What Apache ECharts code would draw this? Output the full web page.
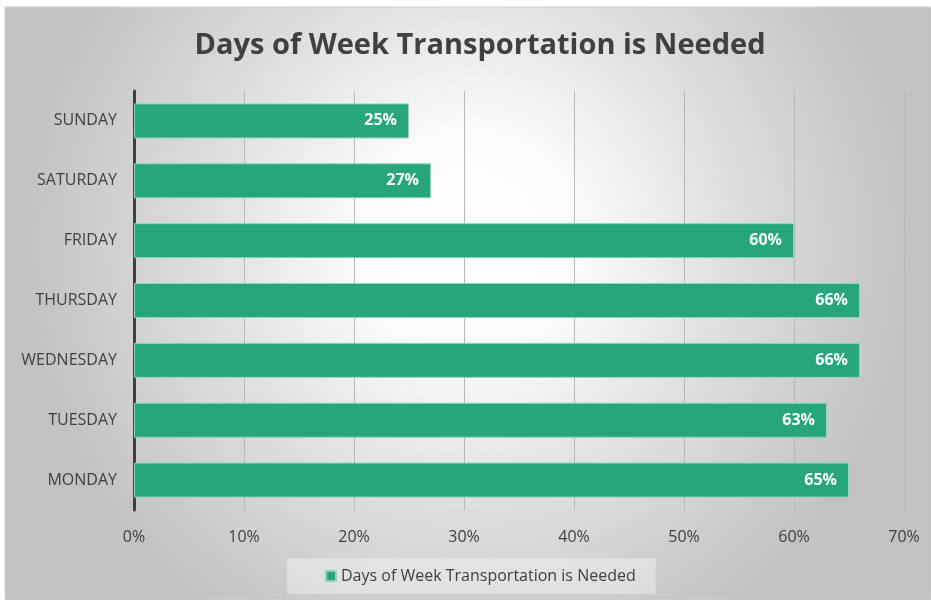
<!DOCTYPE html>
<html>
<head>
<meta charset="utf-8">
<style>
  html, body { margin: 0; padding: 0; background: #fff; }
  #chart { width: 931px; height: 600px; }
</style>
<script src="https://cdn.jsdelivr.net/npm/echarts@6/dist/echarts.min.js"></script>
</head>
<body>
<div id="chart"></div>
<script>
// data, top to bottom as drawn
const days = ['SUNDAY', 'SATURDAY', 'FRIDAY', 'THURSDAY', 'WEDNESDAY', 'TUESDAY', 'MONDAY']
const shares = [25, 27, 60, 66, 66, 63, 65]
const seriesName = 'Days of Week Transportation is Needed'

const textColor = '#404040'
const barColor = '#26a67a'

const chart = echarts.init(document.getElementById('chart'))

chart.setOption({
  animation: false,
  graphic: [
    {
      type: 'rect',
      z: -10,
      shape: { x: 5, y: 7, width: 926, height: 593 },
      style: {
        fill: new echarts.graphic.RadialGradient(0.5, 0.4, 0.75, [
          { offset: 0, color: '#ffffff' },
          { offset: 0.25, color: '#fbfbfb' },
          { offset: 0.6, color: '#dedede' },
          { offset: 1, color: '#c2c2c2' }
        ]),
        stroke: '#d0d0d0',
        lineWidth: 1
      }
    }
  ],
  title: {
    text: 'Days of Week Transportation is Needed',
    left: 475,
    textAlign: 'center',
    top: 26,
    textStyle: {
      fontFamily: 'Open Sans',
      fontWeight: 'bold',
      fontSize: 29,
      color: textColor
    }
  },
  legend: {
    bottom: 6,
    left: 287,
    data: [seriesName],
    icon: 'rect',
    itemWidth: 10,
    itemHeight: 10,
    itemGap: 4,
    padding: [10, 20, 10, 38],
    backgroundColor: 'rgba(255,255,255,0.35)',
    textStyle: { color: textColor, fontSize: 16, fontFamily: 'Open Sans' }
  },
  grid: {
    left: 134,
    right: 27,
    top: 91,
    bottom: 90
  },
  xAxis: {
    type: 'value',
    min: 0,
    max: 70,
    interval: 10,
    axisLine: { show: false },
    axisTick: { show: false },
    splitLine: { lineStyle: { color: '#b8b8b8', width: 1 } },
    axisLabel: {
      formatter: '{value}%',
      color: textColor,
      fontSize: 16,
      fontFamily: 'Open Sans',
      margin: 19
    }
  },
  yAxis: {
    type: 'category',
    data: days,
    inverse: true,
    axisLine: { lineStyle: { color: '#404040', width: 3 } },
    axisTick: { show: false },
    axisLabel: {
      color: textColor,
      fontSize: 16,
      fontFamily: 'Open Sans',
      margin: 17
    }
  },
  series: [
    {
      name: seriesName,
      type: 'bar',
      data: shares,
      barWidth: 35,
      itemStyle: {
        color: barColor,
        borderColor: '#8fd6b8',
        borderWidth: 1
      },
      label: {
        show: true,
        position: 'insideRight',
        distance: 12,
        formatter: '{c}%',
        color: '#ffffff',
        fontWeight: 'bold',
        fontSize: 16,
        fontFamily: 'Open Sans'
      }
    }
  ]
})
</script>
</body>
</html>
